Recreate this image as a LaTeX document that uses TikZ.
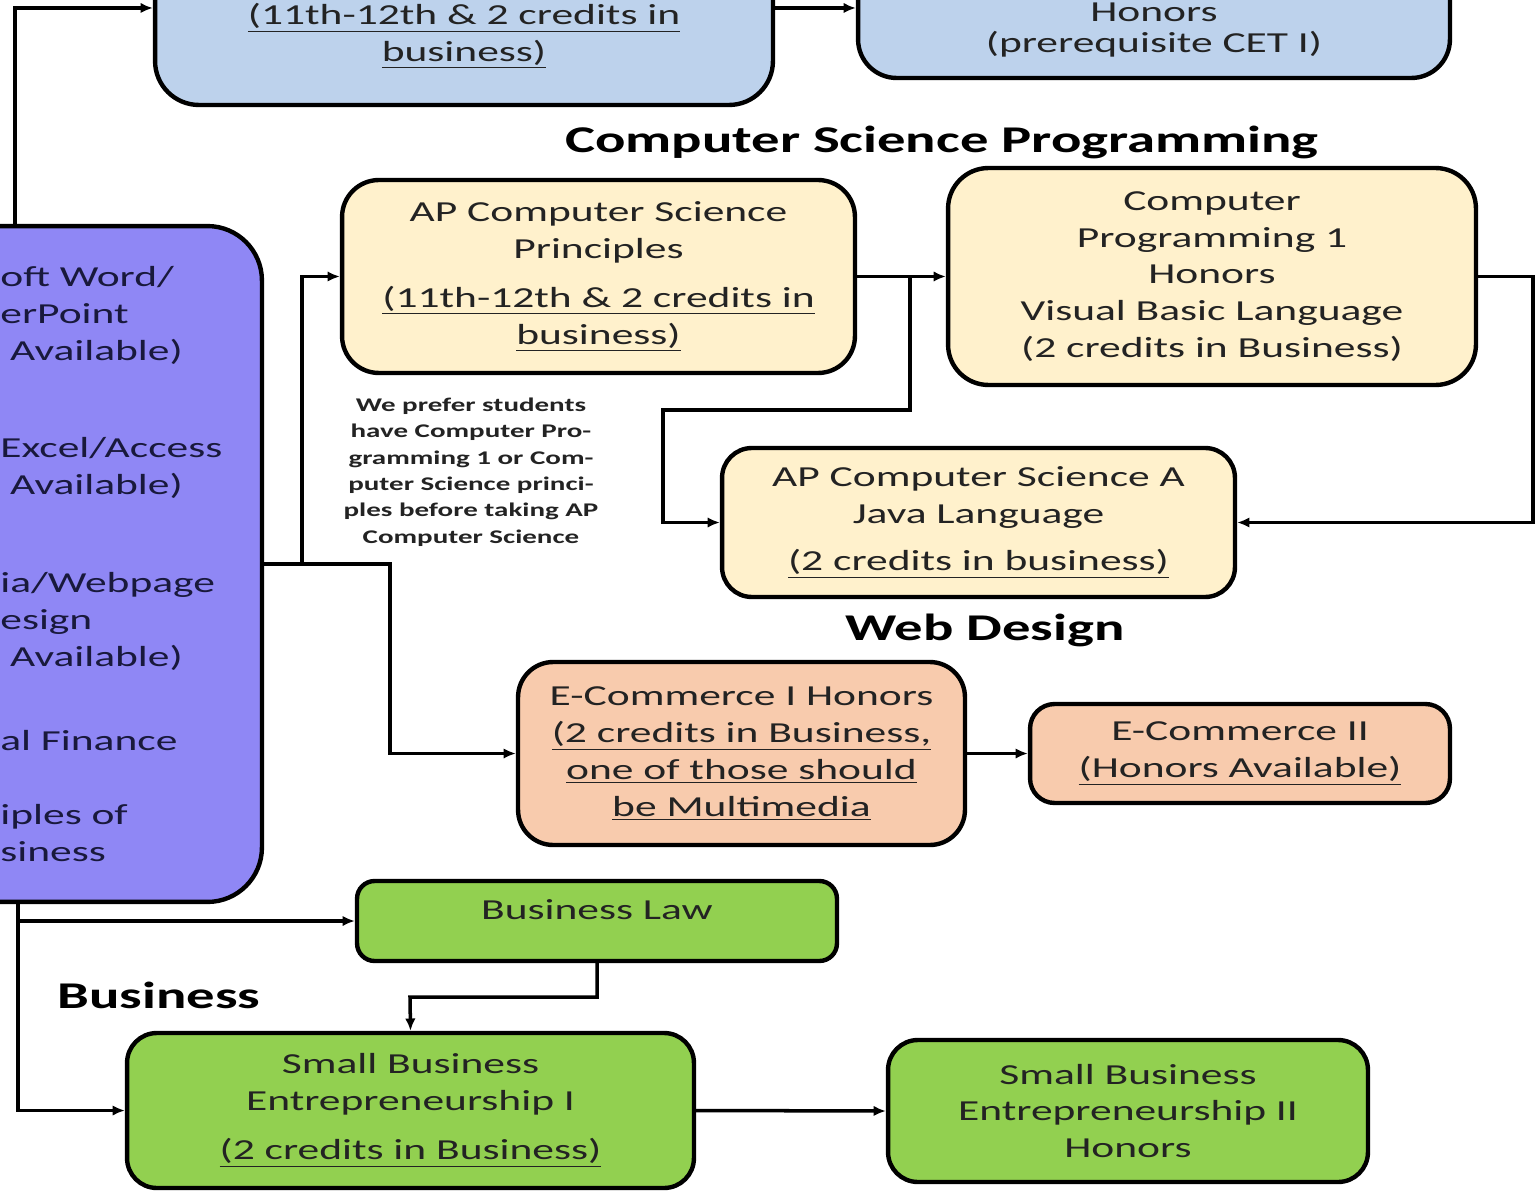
\documentclass[tikz,border=0pt]{standalone}
\usepackage{fontspec}
\setmainfont{Carlito}[FakeStretch=1.5]
\usetikzlibrary{arrows.meta}

\definecolor{cetblue}{RGB}{189,210,236}
\definecolor{csyellow}{RGB}{255,241,204}
\definecolor{webpeach}{RGB}{248,203,173}
\definecolor{busgreen}{RGB}{146,208,80}
\definecolor{corepurple}{RGB}{143,135,245}
\definecolor{ink}{RGB}{35,35,35}
\definecolor{corenavy}{RGB}{25,25,60}

\tikzset{
  boxtext/.style={align=center, inner sep=0pt, text=ink, font=\fontsize{16.5}{21}\selectfont},
  course/.style={boxtext, draw, line width=2.5pt, rounded corners=17pt},
  link/.style={line width=2pt, ->},
  heading/.style={inner sep=0pt, font=\fontsize{21.5}{25}\selectfont\bfseries},
  note/.style={align=center, inner sep=0pt, text=ink, font=\fontsize{11}{15}\selectfont\bfseries},
}

\begin{document}
\begin{tikzpicture}[x=0.02cm, y=-0.02cm, >={Latex[length=7pt,width=6pt]}]
    \useasboundingbox (0,0) rectangle (1537,1192);
    \clip (0,0) rectangle (1537,1192);

    % cut off at the top
    \node[course, fill=cetblue, rounded corners=25pt, minimum width=12.36cm, minimum height=3.88cm] (cetone) at (464,8) {};
    \node[boxtext] (cetonetxt) at (464,36) {\underline{(11th-12th \& 2 credits in}\\\underline{business)}};
    \node[course, fill=cetblue, rounded corners=22pt, minimum width=11.84cm, minimum height=2.8cm] (cettwo) at (1154,8) {};
    \node[boxtext] (cettwotxt) at (1154,30) {Honors\\[-3pt](prerequisite CET I)};

    % cut off at the left
    \node[course, fill=corepurple, rounded corners=31pt, minimum width=11.24cm, minimum height=13.52cm] (core) at (-19,564) {};
    \node[boxtext, align=left, anchor=west, text=corenavy] (coretxt) at (0,564) {oft Word/\\erPoint\\\ Available)\\[34pt]Excel/Access\\\ Available)\\[35pt]ia/Webpage\\esign\\\ Available)\\[27pt]al Finance\\[21pt]iples of\\siness};

    \node[heading] (csp) at (942,142) {Computer Science Programming};
    \node[course, fill=csyellow, rounded corners=21pt, minimum width=10.26cm, minimum height=3.86cm] (apcsp) at (598.5,276.5)
        {AP Computer Science\\Principles\\[7pt]\underline{(11th-12th \& 2 credits in}\\\underline{business)}};
    \node[course, fill=csyellow, rounded corners=23pt, minimum width=10.56cm, minimum height=4.34cm] (cpone) at (1212,276.5)
        {Computer\\Programming 1\\Honors\\Visual Basic Language\\(2 credits in Business)};
    \node[course, fill=csyellow, rounded corners=17pt, minimum width=10.26cm, minimum height=2.98cm] (apcsa) at (978.5,522.5)
        {AP Computer Science A\\Java Language\\[6pt]\underline{(2 credits in business)}};
    \node[note] (prefer) at (471,472) {We prefer students\\have Computer Pro-\\gramming 1 or Com-\\puter Science princi-\\ples before taking AP\\Computer Science};

    \node[heading] (web) at (985,630) {Web Design};
    \node[course, fill=webpeach, rounded corners=20pt, minimum width=8.94cm, minimum height=3.66cm] (ecione) at (741.5,753.5)
        {E-Commerce I Honors\\\underline{(2 credits in Business,}\\\underline{one of those should}\\\underline{be Multimedia}};
    \node[course, fill=webpeach, rounded corners=14pt, minimum width=8.4cm, minimum height=1.98cm] (ecitwo) at (1240,753.5)
        {E-Commerce II\\\underline{(Honors Available)}};

    \node[heading, anchor=west] (bus) at (57,995) {Business};
    \node[course, fill=busgreen, rounded corners=10pt, minimum width=9.6cm, minimum height=1.6cm, text depth=13.5pt] (law) at (597,921) {Business Law};
    \node[course, fill=busgreen, rounded corners=17pt, minimum width=11.34cm, minimum height=3.1cm] (sbeone) at (410.5,1110.5)
        {Small Business\\Entrepreneurship I\\[7pt]\underline{(2 credits in Business)}};
    \node[course, fill=busgreen, rounded corners=17pt, minimum width=9.6cm, minimum height=2.84cm] (sbetwo) at (1128,1111)
        {Small Business\\Entrepreneurship II\\Honors};

    % bends
    \coordinate (trunktop) at (15,226);
    \coordinate (trunkbot) at (18,902);
    \coordinate (split) at (302,564);
    \coordinate (splitb) at (390,564);
    \coordinate (fork) at (910,276.5);
    \coordinate (detour) at (663,410);
    \coordinate (rightrail) at (1533,276.5);
    \coordinate (lawdrop) at (410,997);

    % connectors
    \draw[link] (trunktop) |- (cetone.west);
    \draw[link] (cetone.east) -- (cettwo.west);
    \draw[link] (core.east) -- (split) |- (apcsp.west);
    \draw[link] (split) -- (splitb) |- (ecione.west);
    \draw[link] (apcsp.east) -- (cpone.west);
    \draw[link] (fork) |- (detour) |- (apcsa.west);
    \draw[link] (cpone.east) -- (rightrail) |- (apcsa.east);
    \draw[link] (ecione.east) -- (ecitwo.west);
    \draw[link] (trunkbot) |- (law.west);
    \draw[link] (trunkbot) |- (sbeone.west);
    \draw[link] (law.south) |- (lawdrop) -- (sbeone.north);
    \draw[link] (sbeone.east) -- (sbetwo.west);
\end{tikzpicture}
\end{document}
